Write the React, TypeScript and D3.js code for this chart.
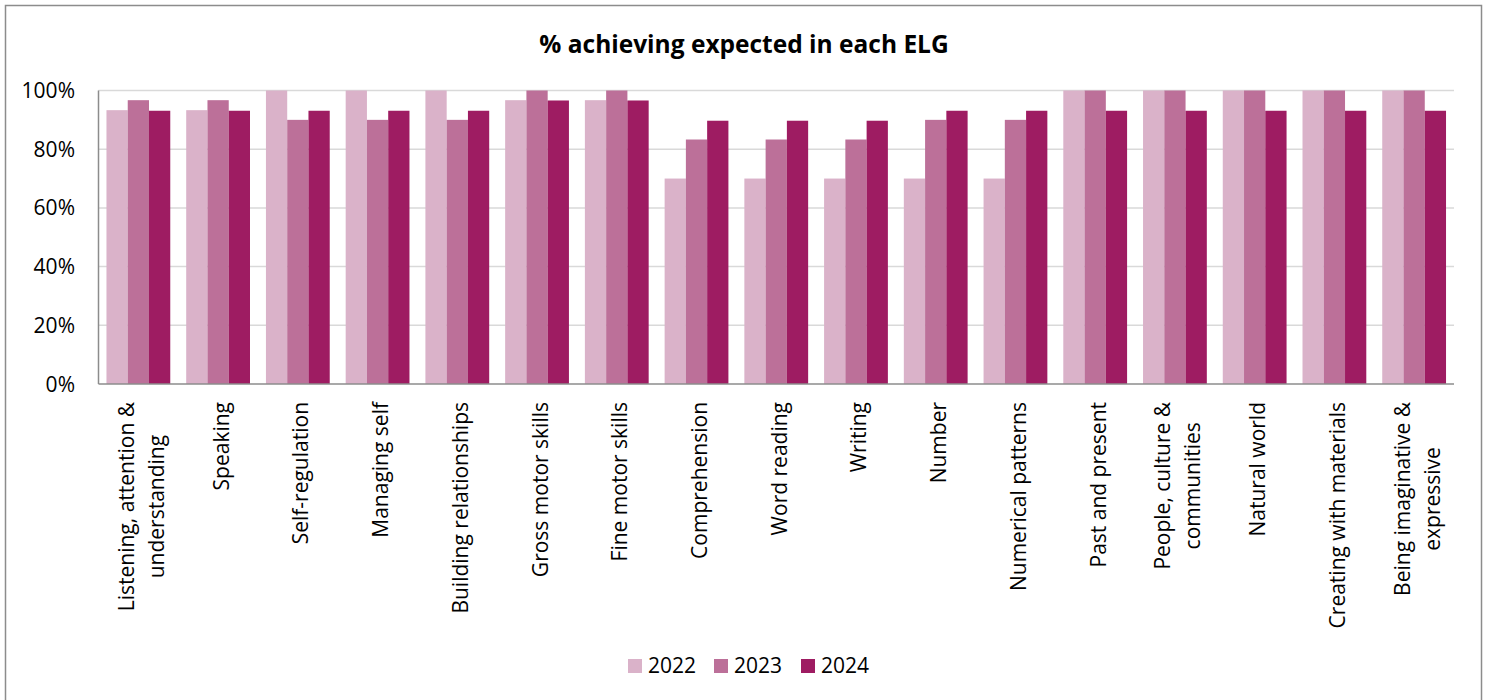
import React from "react";
import * as d3 from "d3";

const categories = [
  "Listening, attention & understanding",
  "Speaking",
  "Self-regulation",
  "Managing self",
  "Building relationships",
  "Gross motor skills",
  "Fine motor skills",
  "Comprehension",
  "Word reading",
  "Writing",
  "Number",
  "Numerical patterns",
  "Past and present",
  "People, culture & communities",
  "Natural world",
  "Creating with materials",
  "Being imaginative & expressive",
];

const seriesNames = ["2022", "2023", "2024"];

const values2022 = [93.3, 93.3, 100, 100, 100, 96.7, 96.7, 70, 70, 70, 70, 70, 100, 100, 100, 100, 100];
const values2023 = [96.7, 96.7, 90, 90, 90, 100, 100, 83.3, 83.3, 83.3, 90, 90, 100, 100, 100, 100, 100];
const values2024 = [93.1, 93.1, 93.1, 93.1, 93.1, 96.6, 96.6, 89.7, 89.7, 89.7, 93.1, 93.1, 93.1, 93.1, 93.1, 93.1, 93.1];

const yTicks = [0, 20, 40, 60, 80, 100];

const colors = ["#DAB2C9", "#BC7099", "#9E1C62"];

const FONT = "'Open Sans', 'Noto Sans', sans-serif";
const LABEL_SIZE = 21;

let ctx: CanvasRenderingContext2D | null = null;
function measure(text: string, size: number): number {
  if (!ctx) {
    const c = document.createElement("canvas");
    ctx = c.getContext("2d");
  }
  if (!ctx) return text.length * size * 0.5;
  ctx.font = `${size}px 'Open Sans'`;
  return ctx.measureText(text).width;
}

function wrap(text: string, maxW: number, size: number): string[] {
  const words = text.split(" ");
  const lines: string[] = [];
  let cur = "";
  for (const w of words) {
    const test = cur ? cur + " " + w : w;
    if (cur && measure(test, size) > maxW) {
      lines.push(cur);
      cur = w;
    } else cur = test;
  }
  if (cur) lines.push(cur);
  return lines;
}

export default function App() {
  const W = 1488;
  const H = 700;
  const left = 98.5;
  const right = 1454;
  const top = 90.5;
  const bottom = 384;

  const x0 = d3.scaleBand<string>().domain(categories).range([left, right]).paddingInner(0.2).paddingOuter(0.1);
  const x1 = d3.scaleBand<string>().domain(seriesNames).range([0, x0.bandwidth()]);
  const y = d3.scaleLinear().domain([0, 100]).range([bottom, top]);

  const series = [values2022, values2023, values2024];

  return (
    <div style={{ position: "fixed", left: 0, top: 0 }}>
      <svg width={W} height={H} style={{ display: "block", background: "#fff" }} fontFamily={FONT}>
        <rect x={5.5} y={5.5} width={1476} height={H + 10} fill="#fff" stroke="#8c8c8c" strokeWidth={1.5} />
        <text x={744} y={53} textAnchor="middle" fontSize={24.5} fontWeight="bold" fill="#000">
          % achieving expected in each ELG
        </text>
        {yTicks.map((t) => (
          <g key={t}>
            {t > 0 && <line x1={left} x2={right} y1={y(t)} y2={y(t)} stroke="#d9d9d9" strokeWidth={1.5} />}
            <text x={75} y={y(t) + 7.5} textAnchor="end" fontSize={21} fill="#000">
              {t}%
            </text>
          </g>
        ))}
        {categories.map((c, ci) => (
          <g key={c} transform={`translate(${x0(c)},0)`}>
            {series.map((vals, si) => (
              <rect
                key={si}
                x={x1(seriesNames[si])}
                y={y(vals[ci])}
                width={x1.bandwidth()}
                height={bottom - y(vals[ci])}
                fill={colors[si]}
              />
            ))}
          </g>
        ))}
        <line x1={left} x2={left} y1={top} y2={bottom} stroke="#8c8c8c" strokeWidth={1.5} />
        <line x1={left} x2={right} y1={bottom} y2={bottom} stroke="#8c8c8c" strokeWidth={1.5} />
        {categories.map((c) => {
          const lines = wrap(c, 260, LABEL_SIZE);
          const maxW = Math.max(...lines.map((l) => measure(l, LABEL_SIZE)));
          const cx = (x0(c) as number) + x0.bandwidth() / 2;
          const n = lines.length;
          return (
            <g key={c} transform={`translate(${cx},402) rotate(-90)`}>
              {lines.map((l, i) => (
                <text
                  key={i}
                  x={-maxW / 2}
                  y={10.5 + (i - (n - 1) / 2) * 30}
                  textAnchor="middle"
                  fontSize={LABEL_SIZE}
                  fill="#000"
                >
                  {l}
                </text>
              ))}
            </g>
          );
        })}
        {seriesNames.map((s, i) => {
          const lx = [628, 714, 801][i];
          return (
            <g key={s}>
              <rect x={lx} y={659} width={14} height={14} fill={colors[i]} />
              <text x={lx + 20} y={673} fontSize={21} fill="#000">
                {s}
              </text>
            </g>
          );
        })}
      </svg>
    </div>
  );
}
